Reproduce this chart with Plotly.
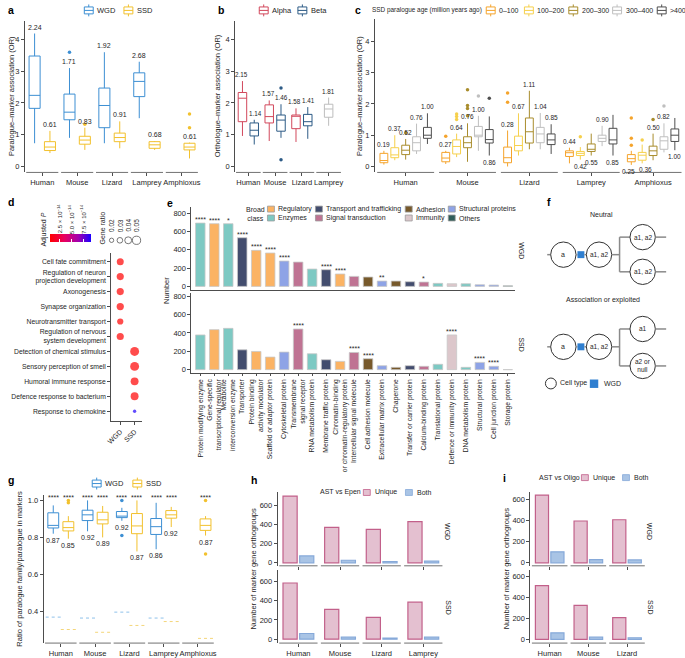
import plotly.graph_objects as go

W, H = 685, 658
FONT = "Liberation Sans, Arial, Helvetica, sans-serif"
TXT = "#262626"
AX = "#4d4d4d"
BOXGAP = 0.12
BOXGROUPGAP = 0.28

# ======================= DATA =======================
species = ["Human", "Mouse", "Lizard", "Lamprey", "Amphioxus"]

# ---- panel a (paralogue-marker OR)
a_wgd_species = ["Human", "Mouse", "Lizard", "Lamprey"]
a_wgd_lower = [0.73, 0.90, 0.73, 1.52]
a_wgd_q1 = [1.83, 1.47, 1.22, 2.20]
a_wgd_median = [2.24, 1.71, 1.92, 2.68]
a_wgd_q3 = [3.48, 2.28, 2.47, 2.95]
a_wgd_upper = [4.19, 3.10, 3.60, 3.30]
a_wgd_out_species = ["Mouse"]
a_wgd_out_values = [3.60]
a_ssd_lower = [0.42, 0.52, 0.57, 0.52, 0.25]
a_ssd_q1 = [0.50, 0.70, 0.78, 0.57, 0.52]
a_ssd_median = [0.61, 0.83, 0.91, 0.68, 0.61]
a_ssd_q3 = [0.78, 0.95, 1.05, 0.78, 0.73]
a_ssd_upper = [1.12, 1.22, 1.42, 0.80, 0.75]
a_ssd_out_species = ["Mouse", "Amphioxus", "Amphioxus"]
a_ssd_out_values = [1.33, 1.65, 1.22]

# ---- panel b (orthologue-marker OR)
b_species = ["Human", "Mouse", "Lizard", "Lamprey"]
b_ab_species = ["Human", "Mouse", "Lizard"]
b_alpha_lower = [0.96, 0.80, 0.77]
b_alpha_q1 = [1.41, 1.37, 1.19]
b_alpha_median = [2.15, 1.57, 1.58]
b_alpha_q3 = [2.33, 1.94, 1.62]
b_alpha_upper = [2.69, 2.08, 1.83]
b_beta_lower = [0.69, 0.90, 0.87]
b_beta_q1 = [0.96, 1.11, 1.28]
b_beta_median = [1.14, 1.46, 1.41]
b_beta_q3 = [1.37, 1.62, 1.64]
b_beta_upper = [1.47, 1.96, 1.87]
b_beta_out_species = ["Mouse", "Mouse"]
b_beta_out_values = [2.47, 0.21]
b_lamprey_stats = dict(lower=[1.28], q1=[1.55], median=[1.81], q3=[1.96], upper=[2.17])

# ---- panel c (SSD paralogue age), rows = age bins, columns = species
c_ages = ["0–100", "100–200", "200–300", "300–400", ">400"]
c_lower = [[0.06, 0.08, 0.00, 0.10, 0.05],
           [0.20, 0.30, 0.35, 0.22, 0.10],
           [0.22, 0.15, 0.55, 0.35, 0.20],
           [0.40, 0.50, 0.55, 0.65, 0.45],
           [0.72, 0.35, 0.40, 0.35, 0.52]]
c_q1 = [[0.12, 0.15, 0.12, 0.32, 0.15],
        [0.28, 0.40, 0.50, 0.35, 0.20],
        [0.38, 0.60, 0.75, 0.48, 0.35],
        [0.50, 0.95, 0.76, 0.80, 0.55],
        [0.90, 0.75, 0.70, 0.72, 0.80]]
c_median = [[0.19, 0.27, 0.28, 0.44, 0.25],
            [0.37, 0.64, 0.67, 0.42, 0.36],
            [0.52, 0.76, 1.11, 0.55, 0.50],
            [0.76, 1.00, 1.04, 0.90, 0.82],
            [1.00, 0.86, 0.85, 0.85, 1.00]]
c_q3 = [[0.42, 0.45, 0.62, 0.50, 0.38],
        [0.60, 0.85, 0.97, 0.48, 0.45],
        [0.68, 0.95, 1.55, 0.72, 0.65],
        [0.95, 1.28, 1.25, 1.00, 0.95],
        [1.25, 1.18, 1.04, 1.22, 1.20]]
c_upper = [[0.50, 0.50, 1.15, 0.60, 0.50],
           [1.00, 1.05, 1.70, 0.62, 0.70],
           [0.88, 1.38, 2.42, 1.05, 1.05],
           [1.37, 1.62, 1.71, 1.30, 1.38],
           [1.70, 1.60, 1.35, 1.65, 1.55]]
c_out_species = [["Mouse", "Lizard", "Lizard", "Amphioxus", "Amphioxus", "Amphioxus"],
                 ["Mouse", "Mouse", "Mouse", "Lamprey", "Amphioxus"],
                 ["Human", "Mouse", "Mouse", "Mouse", "Mouse", "Amphioxus"],
                 ["Mouse", "Amphioxus"],
                 ["Mouse"]]
c_out_values = [[0.97, 2.35, 2.05, 1.55, 0.90, 0.68],
                [1.68, 1.60, 1.50, 0.95, 0.85],
                [1.08, 2.45, 1.95, 1.85, 1.62, 1.50],
                [2.25, 1.93],
                [2.18]]
c_label_below = [[0, 0, 0, 0, 1],
                 [0, 0, 0, 1, 1],
                 [0, 0, 0, 1, 0],
                 [0, 0, 0, 0, 0],
                 [0, 1, 0, 1, 1]]

# ---- panel d (GO enrichment)
d_terms = ["Cell fate commitment", "Regulation of neuron<br>projection development",
           "Axonogenesis", "Synapse organization", "Neurotransmitter transport",
           "Regulation of nervous<br>system development", "Detection of chemical stimulus",
           "Sensory perception of smell", "Humoral immune response",
           "Defence response to bacterium", "Response to chemokine"]
d_group = ["WGD", "WGD", "WGD", "WGD", "WGD", "WGD", "SSD", "SSD", "SSD", "SSD", "SSD"]
d_gene_ratio = [0.040, 0.041, 0.041, 0.042, 0.034, 0.041, 0.055, 0.055, 0.047, 0.047, 0.012]
d_padj = [2e-15, 2e-15, 1e-15, 2e-15, 3e-15, 3e-15, 1e-15, 1e-15, 2e-15, 2e-15, 8.9e-14]
d_ratio_legend = [0.02, 0.03, 0.04, 0.05]
d_p_ticks = [2.5e-14, 5.0e-14, 7.5e-14]
d_p_ticktext = ["2.5 × 10<sup>−14</sup>", "5.0 × 10<sup>−14</sup>", "7.5 × 10<sup>−14</sup>"]

# ---- panel e (PANTHER classes)
e_categories = ["Protein modifying enzyme", "Gene-specific<br>transcriptional regulator",
                "Metabolite<br>interconversion enzyme", "Transporter",
                "Protein binding<br>activity modulator", "Scaffold or adaptor protein",
                "Cytoskeletal protein", "Transmembrane<br>signal receptor",
                "RNA metabolism protein", "Membrane traffic protein",
                "Chromatin-binding<br>or chromatin-regulatory protein",
                "Intercellular signal molecule", "Cell adhesion molecule",
                "Extracellular matrix protein", "Chaperone", "Transfer or carrier protein",
                "Calcium-binding protein", "Translational protein",
                "Defence or immunity protein", "DNA metabolism protein",
                "Structural protein", "Cell junction protein", "Storage protein"]
e_class = ["Enzymes", "Regulatory", "Enzymes", "Transport and trafficking", "Regulatory",
           "Regulatory", "Structural proteins", "Signal transduction", "Enzymes",
           "Transport and trafficking", "Regulatory", "Signal transduction", "Adhesion",
           "Structural proteins", "Adhesion", "Transport and trafficking",
           "Signal transduction", "Enzymes", "Immunity", "Enzymes", "Structural proteins",
           "Structural proteins", "Others"]
e_wgd = [691, 684, 684, 531, 393, 364, 276, 265, 189, 182, 135, 109, 102, 58, 58, 51, 47,
         33, 29, 29, 18, 15, 7]
e_ssd = [378, 436, 450, 216, 198, 137, 191, 443, 173, 108, 90, 187, 119, 43, 25, 43, 36,
         58, 378, 25, 79, 36, 0]
e_wgd_sig = ["****", "****", "*", "****", "****", "****", "****", "", "", "****", "****",
             "", "", "**", "", "", "*", "", "", "", "", "", ""]
e_ssd_sig = ["", "", "", "", "", "", "", "****", "", "", "", "****", "****", "", "", "",
             "", "", "****", "", "****", "****", ""]
e_class_order = ["Regulatory", "Enzymes", "Transport and trafficking", "Signal transduction",
                 "Adhesion", "Immunity", "Structural proteins", "Others"]

# ---- panel g (ratio of paralogue family)
g_wgd_species = ["Human", "Mouse", "Lizard", "Lamprey"]
g_wgd_lower = [0.820, 0.833, 0.890, 0.736]
g_wgd_q1 = [0.851, 0.891, 0.907, 0.816]
g_wgd_median = [0.865, 0.922, 0.915, 0.858]
g_wgd_q3 = [0.933, 0.947, 0.940, 0.902]
g_wgd_upper = [0.973, 1.000, 0.960, 0.987]
g_wgd_out_species = ["Lizard", "Lizard"]
g_wgd_out_values = [1.000, 0.810]
g_wgd_label = ["0.87", "0.92", "0.92", "0.86"]
g_wgd_expected = [0.369, 0.364, 0.396, 0.364]
g_ssd_lower = [0.793, 0.800, 0.724, 0.856, 0.810]
g_ssd_q1 = [0.835, 0.873, 0.820, 0.904, 0.838]
g_ssd_median = [0.853, 0.895, 0.862, 0.922, 0.865]
g_ssd_q3 = [0.885, 0.936, 0.929, 0.945, 0.900]
g_ssd_upper = [0.915, 0.970, 1.000, 0.965, 0.915]
g_ssd_out_species = ["Human", "Human", "Amphioxus", "Amphioxus"]
g_ssd_out_values = [1.000, 0.987, 1.000, 0.710]
g_ssd_label = ["0.85", "0.89", "0.87", "0.92", "0.87"]
g_ssd_expected = [0.302, 0.287, 0.324, 0.345, 0.254]
g_sig = "****"

# ---- panel h (AST vs Epen)
h_species = ["Human", "Mouse", "Lizard", "Lamprey"]
h_wgd_unique = [696, 370, 350, 429]
h_wgd_both = [72, 27, 14, 17]
h_ssd_unique = [586, 310, 228, 386]
h_ssd_both = [59, 21, 10, 21]

# ---- panel i (AST vs Oligo)
i_species = ["Human", "Mouse", "Lizard"]
i_wgd_unique = [641, 396, 408]
i_wgd_both = [104, 31, 28]
i_ssd_unique = [515, 325, 208]
i_ssd_both = [63, 22, 16]

# ======================= STYLE =======================
WGD_C, SSD_C = "#3d8fd3", "#f2c12e"
WGD_LIGHT, SSD_LIGHT = "#8fc1ea", "#f4d67a"
ALPHA_C, BETA_C, LAMP_C = "#d2485c", "#2d5b86", "#bdbdbd"
AGE_C = ["#f5a42c", "#f6d04c", "#a98d2d", "#bfbfbf", "#4f4f4f"]
CLASS_C = {"Regulatory": "#fbb364", "Enzymes": "#7dc9c3", "Transport and trafficking": "#434d6e",
           "Signal transduction": "#bf7393", "Adhesion": "#77592b", "Immunity": "#dcc7cb",
           "Structural proteins": "#8ea3e6", "Others": "#2f5d59"}
UNI_FILL, UNI_LINE = "#e4c0d0", "#c2608a"
BOTH_FILL, BOTH_LINE = "#a9c4e5", "#86a9d9"
C_LABEL_XSHIFT = {(0, 4): -3, (1, 4): 3}

fig = go.Figure()
shapes, annots = [], []


def px_x(x):
    return x / W


def px_y(y):
    return 1 - y / H


def text(x, y, s, size=7, xa="center", ya="middle", angle=0, color=TXT, bold=False):
    if bold:
        s = "<b>%s</b>" % s
    annots.append(dict(x=px_x(x), y=px_y(y), xref="paper", yref="paper", text=s,
                       showarrow=False, xanchor=xa, yanchor=ya, textangle=angle,
                       font=dict(size=size, color=color, family=FONT)))


def rect(x0, y0, x1, y1, color, fill="white", lw=1):
    shapes.append(dict(type="rect", xref="paper", yref="paper", x0=px_x(x0), x1=px_x(x1),
                       y0=px_y(y1), y1=px_y(y0), line=dict(color=color, width=lw),
                       fillcolor=fill))


def seg(x0, y0, x1, y1, color, lw=1, dash="solid"):
    shapes.append(dict(type="line", xref="paper", yref="paper", x0=px_x(x0), x1=px_x(x1),
                       y0=px_y(y0), y1=px_y(y1), line=dict(color=color, width=lw, dash=dash)))


def circ(cx, cy, r, color, fill="white", lw=1):
    shapes.append(dict(type="circle", xref="paper", yref="paper", x0=px_x(cx - r),
                       x1=px_x(cx + r), y0=px_y(cy + r), y1=px_y(cy - r),
                       line=dict(color=color, width=lw), fillcolor=fill))


def box_key(cx, cy, color):
    seg(cx, cy - 6, cx, cy + 6, color)
    rect(cx - 4.5, cy - 3.5, cx + 4.5, cy + 3.5, color)
    seg(cx - 4.5, cy, cx + 4.5, cy, color)


def fill_key(cx, cy, fill, line):
    rect(cx - 3.5, cy - 3, cx + 3.5, cy + 3, line, fill, 0.8)


def slot(k, n):
    return (1 - BOXGAP) * (-0.5 + (k + 0.5) / n)


def add_box(cats, lo, q1, med, q3, up, color, xa, ya, og, width=None):
    fig.add_trace(go.Box(x=cats, lowerfence=lo, q1=q1, median=med, q3=q3, upperfence=up,
                         line=dict(color=color, width=1), fillcolor="white",
                         marker=dict(color=color), boxpoints=False, whiskerwidth=0,
                         offsetgroup=og, xaxis=xa, yaxis=ya, showlegend=False,
                         hoverinfo="skip", width=width))


def add_out(cats, vals, color, xa, ya, og):
    fig.add_trace(go.Scatter(x=cats, y=vals, mode="markers",
                             marker=dict(color=color, size=3.5), offsetgroup=og,
                             xaxis=xa, yaxis=ya, showlegend=False, hoverinfo="skip"))


def val_label(xa, ya, xpos, y, s, below=False, size=7, xshift=0):
    annots.append(dict(x=xpos, y=y, xref=xa, yref=ya, text=s, showarrow=False,
                       xanchor="center", yanchor="top" if below else "bottom",
                       yshift=-1 if below else 1, xshift=xshift,
                       font=dict(size=size, color=TXT, family=FONT)))


def axis_segments(xref, yref, n):
    for i in range(n):
        shapes.append(dict(type="line", xref=xref, yref=yref + " domain", x0=i - 0.46,
                           x1=i + 0.46, y0=0, y1=0, line=dict(color=AX, width=0.8)))


# ======================= PANEL a =======================
add_box(a_wgd_species, a_wgd_lower, a_wgd_q1, a_wgd_median, a_wgd_q3, a_wgd_upper, WGD_C, "x", "y", "WGD")
add_box(species, a_ssd_lower, a_ssd_q1, a_ssd_median, a_ssd_q3, a_ssd_upper, SSD_C, "x", "y", "SSD")
add_out(a_wgd_out_species, a_wgd_out_values, WGD_C, "x", "y", "WGD")
add_out(a_ssd_out_species, a_ssd_out_values, SSD_C, "x", "y", "SSD")
for sp, up, med in zip(a_wgd_species, a_wgd_upper, a_wgd_median):
    val_label("x", "y", species.index(sp) + slot(0, 2), up, "%.2f" % med)
for sp, up, med in zip(species, a_ssd_upper, a_ssd_median):
    val_label("x", "y", species.index(sp) + slot(1, 2), up, "%.2f" % med)
axis_segments("x", "y", len(species))

# ======================= PANEL b =======================
add_box(b_ab_species, b_alpha_lower, b_alpha_q1, b_alpha_median, b_alpha_q3, b_alpha_upper, ALPHA_C, "x2", "y2", "Alpha")
add_box(b_ab_species, b_beta_lower, b_beta_q1, b_beta_median, b_beta_q3, b_beta_upper, BETA_C, "x2", "y2", "Beta")
add_out(["Human"], [None], ALPHA_C, "x2", "y2", "Alpha")
add_out(b_beta_out_species, b_beta_out_values, BETA_C, "x2", "y2", "Beta")
add_box(["Lamprey"], b_lamprey_stats["lower"], b_lamprey_stats["q1"], b_lamprey_stats["median"],
        b_lamprey_stats["q3"], b_lamprey_stats["upper"], LAMP_C, "x12", "y2", "L",
        width=(1 - BOXGAP) * (1 - BOXGROUPGAP) / 2)
for sp, up, med in zip(b_ab_species, b_alpha_upper, b_alpha_median):
    val_label("x2", "y2", b_species.index(sp) + slot(0, 2), up, "%.2f" % med, size=6.3, xshift=-1)
for sp, up, med in zip(b_ab_species, b_beta_upper, b_beta_median):
    val_label("x2", "y2", b_species.index(sp) + slot(1, 2), up, "%.2f" % med, size=6.3, xshift=1)
val_label("x2", "y2", b_species.index("Lamprey"), b_lamprey_stats["upper"][0],
          "%.2f" % b_lamprey_stats["median"][0], size=6.3)
axis_segments("x2", "y2", len(b_species))

# ======================= PANEL c =======================
for k, age in enumerate(c_ages):
    add_box(species, c_lower[k], c_q1[k], c_median[k], c_q3[k], c_upper[k], AGE_C[k], "x3", "y3", age)
for k, age in enumerate(c_ages):
    add_out(c_out_species[k], c_out_values[k], AGE_C[k], "x3", "y3", age)
for k in range(len(c_ages)):
    for j in range(len(species)):
        below = bool(c_label_below[k][j])
        val_label("x3", "y3", j + slot(k, len(c_ages)),
                  c_lower[k][j] if below else c_upper[k][j], "%.2f" % c_median[k][j], below,
                  size=6.5, xshift=C_LABEL_XSHIFT.get((k, j), 0))
axis_segments("x3", "y3", len(species))


# ======================= PANEL d =======================
def dot_size(r):
    return 1.8 + 130 * r


P_MIN, P_MAX = 4e-15, 9e-14
P_SCALE = [[0, "#ff0000"], [0.35, "#e8005f"], [0.7, "#a000b0"], [1, "#1a00ff"]]
fig.add_trace(go.Scatter(
    x=d_group, y=d_terms, mode="markers", xaxis="x4", yaxis="y4", showlegend=False,
    hoverinfo="skip",
    marker=dict(size=[dot_size(r) for r in d_gene_ratio], color=d_padj, colorscale=P_SCALE,
                cmin=P_MIN, cmax=P_MAX, line=dict(width=0), showscale=True,
                colorbar=dict(orientation="h", x=px_x(45), xanchor="left", y=px_y(246),
                              yanchor="bottom", len=41, lenmode="pixels", thickness=8,
                              thicknessmode="pixels", outlinewidth=0, xpad=0, ypad=0,
                              tickvals=d_p_ticks, ticks="inside", ticklen=3,
                              tickcolor="white", showticklabels=False))))
for v, t in zip(d_p_ticks, d_p_ticktext):
    text(45 + (v - P_MIN) / (P_MAX - P_MIN) * 41, 237, t, 6, ya="bottom", angle=-90)
text(39, 231, "Adjusted <i>P</i>", 7, angle=-90)
text(98.5, 229, "Gene ratio", 7, angle=-90)
for k, r in enumerate(d_ratio_legend):
    cx = 107.5 + 8.4 * k
    circ(cx, 241.5, dot_size(r) / 2, "#555", "white", 0.8)
    text(cx, 235, "%.2f" % r, 6.5, ya="bottom", angle=-90)

# ======================= PANEL e =======================
for xa, ya, vals in (("x5", "y5", e_wgd), ("x6", "y6", e_ssd)):
    for cls in e_class_order:
        idx = [i for i, c in enumerate(e_class) if c == cls]
        fig.add_trace(go.Bar(x=[e_categories[i] for i in idx], y=[vals[i] for i in idx],
                             marker=dict(color=CLASS_C[cls], line=dict(color="#c8c8c8", width=0.8)),
                             offsetgroup="e", xaxis=xa, yaxis=ya, showlegend=False,
                             hoverinfo="skip"))
for xa, ya, vals, sig in (("x5", "y5", e_wgd, e_wgd_sig), ("x6", "y6", e_ssd, e_ssd_sig)):
    for i, (v, s) in enumerate(zip(vals, sig)):
        if s:
            annots.append(dict(x=i, y=v, xref=xa, yref=ya, text=s, showarrow=False,
                               xanchor="center", yanchor="bottom", yshift=-2,
                               font=dict(size=7, color=TXT, family=FONT)))

# ======================= PANEL g =======================
add_box(g_wgd_species, g_wgd_lower, g_wgd_q1, g_wgd_median, g_wgd_q3, g_wgd_upper, WGD_C, "x7", "y7", "WGD")
add_box(species, g_ssd_lower, g_ssd_q1, g_ssd_median, g_ssd_q3, g_ssd_upper, SSD_C, "x7", "y7", "SSD")
add_out(g_wgd_out_species, g_wgd_out_values, WGD_C, "x7", "y7", "WGD")
add_out(g_ssd_out_species, g_ssd_out_values, SSD_C, "x7", "y7", "SSD")
half = (1 - BOXGAP) / 4
for k, (cats, lows, labs, exps, light) in enumerate(
        ((g_wgd_species, g_wgd_lower, g_wgd_label, g_wgd_expected, WGD_LIGHT),
         (species, g_ssd_lower, g_ssd_label, g_ssd_expected, SSD_LIGHT))):
    for sp, lo, lab, ex in zip(cats, lows, labs, exps):
        xc = species.index(sp) + slot(k, 2)
        val_label("x7", "y7", xc, lo, lab, below=True)
        annots.append(dict(x=xc, y=1, xref="x7", yref="y7 domain", text=g_sig, showarrow=False,
                           xanchor="center", yanchor="middle", yshift=-2,
                           font=dict(size=7, color=TXT, family=FONT)))
        shapes.append(dict(type="line", xref="x7", yref="y7", x0=xc - half, x1=xc + half,
                           y0=ex, y1=ex, line=dict(color=light, width=1, dash="dot")))
axis_segments("x7", "y7", len(species))

# ======================= PANELS h, i =======================
for (xa, ya, cats, uni, both) in (("x8", "y8", h_species, h_wgd_unique, h_wgd_both),
                                  ("x9", "y9", h_species, h_ssd_unique, h_ssd_both),
                                  ("x10", "y10", i_species, i_wgd_unique, i_wgd_both),
                                  ("x11", "y11", i_species, i_ssd_unique, i_ssd_both)):
    fig.add_trace(go.Bar(x=cats, y=uni, marker=dict(color=UNI_FILL, line=dict(color=UNI_LINE, width=1.2)),
                         offsetgroup="u", xaxis=xa, yaxis=ya, showlegend=False, hoverinfo="skip"))
    fig.add_trace(go.Bar(x=cats, y=both, marker=dict(color=BOTH_FILL, line=dict(color=BOTH_LINE, width=1.2)),
                         offsetgroup="b", xaxis=xa, yaxis=ya, showlegend=False, hoverinfo="skip"))
    axis_segments(xa, ya, len(cats))


# ======================= AXES =======================
def xdom(x0, x1):
    return [x0 / W, x1 / W]


def ydom(y0, y1):
    return [1 - y1 / H, 1 - y0 / H]


def cat_x(cats, x0, x1, anchor, labels=True, ticks=True, rng=None, line=False, size=7.5, angle=0):
    return dict(domain=xdom(x0, x1), anchor=anchor, type="category", categoryorder="array",
                categoryarray=cats, range=rng or [-0.5, len(cats) - 0.5], showline=line,
                linecolor=AX, linewidth=0.8, ticks="outside" if ticks else "", ticklen=3,
                tickcolor=AX, tickwidth=0.8, showticklabels=labels, tickangle=angle,
                tickfont=dict(size=size, color=TXT, family=FONT), showgrid=False,
                zeroline=False, fixedrange=True)


def num_y(y0, y1, anchor, rng, tickvals, ticktext=None):
    d = dict(domain=ydom(y0, y1), anchor=anchor, range=rng, tickvals=tickvals, showline=True,
             linecolor=AX, linewidth=0.8, ticks="outside", ticklen=3, tickcolor=AX,
             tickwidth=0.8, tickfont=dict(size=7.5, color=TXT, family=FONT), showgrid=False,
             zeroline=False, fixedrange=True)
    if ticktext:
        d["ticktext"] = ticktext
    return d


OR_TICKS = [0, 1, 2, 3, 4]
layout = dict(
    width=W, height=H, margin=dict(l=0, r=0, t=0, b=0), paper_bgcolor="white",
    plot_bgcolor="white", showlegend=False, boxmode="group", boxgap=BOXGAP,
    boxgroupgap=BOXGROUPGAP, barmode="group", bargap=0.2, bargroupgap=0.15,
    scattermode="group", scattergap=BOXGAP, font=dict(family=FONT, size=7.5, color=TXT),
    xaxis=cat_x(species, 20, 196, "y"),
    yaxis=num_y(20, 173, "x", [-0.19, 4.59], OR_TICKS),
    xaxis2=cat_x(b_species, 232, 340, "y2"),
    yaxis2=num_y(20, 173, "x2", [-0.19, 4.59], OR_TICKS),
    xaxis12=dict(overlaying="x2", anchor="y2", type="category", categoryorder="array",
                 categoryarray=b_species, range=[-0.5, len(b_species) - 0.5], visible=False,
                 fixedrange=True),
    xaxis3=cat_x(species, 373, 685, "y3"),
    yaxis3=num_y(18, 173, "x3", [-0.19, 4.72], OR_TICKS),
    xaxis4=cat_x(["WGD", "SSD"], 107, 138, "y4", rng=[-0.64, 1.5], line=True, angle=-45, size=7),
    yaxis4=dict(domain=ydom(254, 424), anchor="x4", type="category", categoryorder="array",
                categoryarray=d_terms, range=[len(d_terms) - 0.34, -0.6], showline=True,
                linecolor=AX, linewidth=0.8, ticks="outside", ticklen=3, tickcolor=AX,
                tickfont=dict(size=6.8, color=TXT, family=FONT), showgrid=False,
                zeroline=False, fixedrange=True),
    xaxis5=cat_x(e_categories, 188, 515, "y5", labels=False, ticks=False,
                 rng=[-0.64, 22.55], line=True),
    yaxis5=num_y(208, 292, "x5", [-43, 865], [0, 200, 400, 600, 800]),
    xaxis6=cat_x(e_categories, 188, 515, "y6", rng=[-0.64, 22.55], line=True, angle=-90, size=6.8),
    yaxis6=num_y(295, 375, "x6", [-32, 832], [0, 200, 400, 600, 800]),
    xaxis7=cat_x(species, 39, 212, "y7"),
    yaxis7=num_y(499, 648, "x7", [0.2286, 1.0268], [0.4, 0.6, 0.8, 1.0],
                 ["0.4", "0.6", "0.8", "1.0"]),
    xaxis8=cat_x(h_species, 275, 443, "y8", labels=False),
    yaxis8=num_y(496, 570, "x8", [-31, 734], [0, 200, 400, 600]),
    xaxis9=cat_x(h_species, 275, 443, "y9"),
    yaxis9=num_y(574, 648, "x9", [-41, 724], [0, 200, 400, 600]),
    xaxis10=cat_x(i_species, 530, 647, "y10", labels=False),
    yaxis10=num_y(496, 570, "x10", [-28, 666], [0, 200, 400, 600]),
    xaxis11=cat_x(i_species, 530, 647, "y11"),
    yaxis11=num_y(574, 648, "x11", [-35, 666], [0, 200, 400, 600]),
)

# ======================= TEXT, LEGENDS, DIAGRAM =======================
for lbl, x, y in (("a", 1, 9), ("b", 213, 9), ("c", 351, 9), ("d", 1, 203), ("e", 161, 204),
                  ("f", 545, 203), ("g", 1, 483), ("h", 246, 483), ("i", 500, 481)):
    text(x, y, lbl, 10.5, xa="left", bold=True, color="black")

# axis titles
text(6, 96, "Paralogue–marker association (OR)", 7.5, angle=-90)
text(214, 96, "Orthologue–marker association (OR)", 7.5, angle=-90)
text(357, 96, "Paralogue–marker association (OR)", 7.5, angle=-90)
text(163, 292, "Number", 7.5, angle=-90)
text(15, 573, "Ratio of paralogue family/paralogue in markers", 7.5, angle=-90)
text(251, 573, "Number of marker gene orthogroups", 7.5, angle=-90)
text(506, 573, "Number of marker gene orthogroups", 7.5, angle=-90)

# facet strips
for x, y, s in ((521, 252, "WGD"), (521, 347, "SSD"), (447, 535, "WGD"), (447, 612, "SSD"),
                (651, 535, "WGD"), (651, 612, "SSD")):
    text(x, y, s, 7, angle=90)

# legend a
box_key(84.5, 9.5, WGD_C); text(91, 9.5, "WGD", 7.5, xa="left")
box_key(124.5, 9.5, SSD_C); text(131, 9.5, "SSD", 7.5, xa="left")
# legend b
box_key(261, 9.5, ALPHA_C); text(267.5, 9.5, "Alpha", 7.5, xa="left")
box_key(300, 9.5, BETA_C); text(306.5, 9.5, "Beta", 7.5, xa="left")
# legend c
text(368, 9.5, "SSD paralogue age (million years ago)", 6.4, xa="left")
for k, (age, xk) in enumerate(zip(c_ages, (490, 528.5, 573.3, 617.5, 662.5))):
    box_key(xk, 9.5, AGE_C[k]); text(xk + 6.5, 9.5, age, 7, xa="left")
# legend e
text(253, 214.5, "Broad<br>class", 7)
for cls, (cx, cy) in zip(e_class_order,
                         ((268.3, 210), (268.3, 219), (316.7, 210), (316.7, 219),
                          (407.3, 210), (407.3, 219), (450.7, 210), (450.7, 219))):
    fill_key(cx, cy, CLASS_C[cls], "#9a9a9a")
    text(cx + 5.5, cy, cls, 7, xa="left")
# legend g
box_key(92.5, 487, WGD_C); text(99, 487, "WGD", 7.5, xa="left")
box_key(133.5, 487, SSD_C); text(140, 487, "SSD", 7.5, xa="left")
# legend h
text(338, 496, "AST vs Epen", 7)
fill_key(365, 496, UNI_FILL, UNI_LINE); text(371, 496, "Unique", 7, xa="left")
fill_key(407.5, 496, BOTH_FILL, BOTH_LINE); text(413.5, 496, "Both", 7, xa="left")
# legend i
text(559, 481, "AST vs Oligo", 7)
fill_key(585, 481, UNI_FILL, UNI_LINE); text(591, 481, "Unique", 7, xa="left")
fill_key(626.5, 481, BOTH_FILL, BOTH_LINE); text(632.5, 481, "Both", 7, xa="left")

# panel f schematic
GR, DK, BLUE = "#8a8a8a", "#333333", "#2f7fd0"


def lineage(cy, top_y, bot_y, top_lbl, bot_lbl):
    seg(547, cy, 550.5, cy, GR, 1.5)
    circ(563.3, cy, 12.8, DK)
    text(563.3, cy, "a", 7)
    seg(576.1, cy, 577.5, cy, GR, 1.5)
    rect(577.5, cy - 3.5, 584.5, cy + 3.5, BLUE, BLUE, 0)
    seg(584.5, cy, 586.5, cy, GR, 1.5)
    circ(599.3, cy, 12.8, DK)
    text(599.3, cy, "a1, a2", 6.5)
    seg(612.1, cy, 620, cy, GR, 1.5)
    seg(620, top_y, 620, bot_y, GR, 1.5)
    for yy, lbl in ((top_y, top_lbl), (bot_y, bot_lbl)):
        seg(620, yy, 630.5, yy, GR, 1.5)
        circ(643.3, yy, 12.8, DK)
        text(643.3, yy, lbl, 6.5)
        seg(656.1, yy, 667, yy, GR, 1.5)


text(602, 215, "Neutral", 7)
lineage(256, 238.3, 273.3, "a1, a2", "a1, a2")
text(603, 302, "Association or exploited", 7)
lineage(349, 331, 368.3, "a1", "a2 or<br>null")
circ(550.7, 386, 5.5, DK)
text(558, 386, "Cell type", 7, xa="left")
rect(590, 382, 598.5, 390.5, BLUE, BLUE, 0)
text(602, 386, "WGD", 7, xa="left")

layout["shapes"] = shapes
layout["annotations"] = annots
fig.update_layout(**layout)
fig.write_html("out.html")
